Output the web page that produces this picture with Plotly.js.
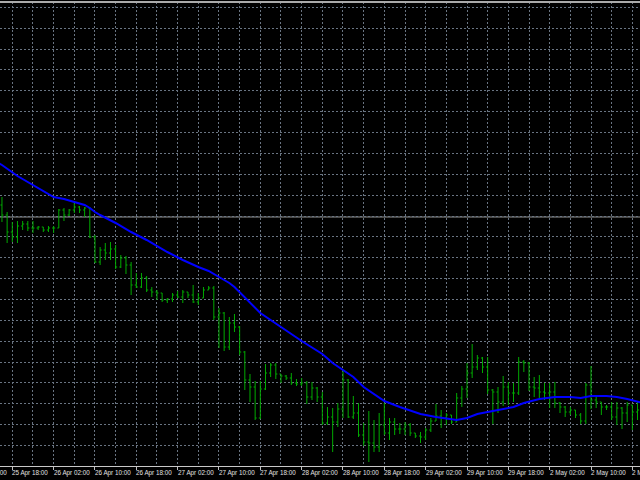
<!DOCTYPE html>
<html>
<head>
<meta charset="utf-8">
<script src="https://cdn.plot.ly/plotly-3.0.1.min.js"></script>
<style>
html,body{margin:0;padding:0;background:#000;}
#chart{width:640px;height:480px;}
</style>
</head>
<body>
<div id="chart"></div>
<script>
// Bar index (hourly bars, weekend gap removed; 0 = 25 Apr 18:00)
const barIndex = [];
for (let k = -2; k <= 121; k++) barIndex.push(k);

const opens = [108.95,108.85,108.68,108.63,108.74,108.76,108.72,108.72,108.73,108.70,108.72,108.72,108.90,108.85,108.90,108.93,108.90,108.92,108.63,108.38,108.50,108.47,108.51,108.33,108.42,108.35,108.15,108.13,108.22,108.10,108.08,108.07,108.00,108.01,108.05,108.03,108.08,108.05,107.98,108.02,108.10,108.12,107.83,107.87,107.53,107.77,107.73,107.48,107.20,107.13,106.82,107.11,107.27,107.35,107.26,107.24,107.22,107.17,107.16,107.17,107.03,107.12,107.03,106.77,106.83,106.78,106.91,107.20,106.83,106.87,106.65,106.58,106.57,106.53,106.75,106.67,106.78,106.71,106.71,106.75,106.67,106.64,106.63,106.70,106.79,106.84,106.82,106.85,106.78,107.02,107.11,107.27,107.33,107.42,107.33,107.10,107.08,106.98,107.13,107.07,107.07,107.38,107.37,107.13,107.12,107.08,107.07,107.08,106.97,106.93,106.88,106.90,106.85,106.79,107.15,107.00,106.98,106.93,106.93,106.83,106.92,106.87,106.95,106.88];
const highs = [109.03,108.88,108.78,108.79,108.79,108.79,108.79,108.74,108.73,108.74,108.74,108.91,108.92,108.91,108.97,108.94,108.93,108.93,108.65,108.53,108.57,108.58,108.55,108.45,108.44,108.38,108.27,108.27,108.24,108.13,108.10,108.07,108.02,108.07,108.09,108.10,108.08,108.15,108.07,108.13,108.14,108.14,107.92,107.88,107.83,107.86,107.74,107.49,107.26,107.19,107.19,107.36,107.37,107.37,107.26,107.25,107.27,107.21,107.22,107.19,107.18,107.13,107.08,106.93,106.92,106.97,107.30,107.21,107.04,106.97,106.77,106.89,106.80,106.87,106.97,106.82,106.82,106.77,106.78,106.77,106.67,106.68,106.72,106.82,106.96,106.90,106.87,106.85,107.07,107.14,107.37,107.56,107.45,107.43,107.43,107.11,107.13,107.24,107.18,107.17,107.43,107.40,107.38,107.23,107.25,107.17,107.17,107.18,106.98,106.94,106.93,106.90,106.87,107.17,107.34,107.03,106.98,106.95,106.98,106.98,106.93,106.98,106.95,106.98];
const lows = [108.78,108.57,108.58,108.57,108.70,108.69,108.67,108.70,108.68,108.68,108.67,108.72,108.79,108.84,108.87,108.87,108.83,108.62,108.37,108.35,108.40,108.40,108.31,108.32,108.26,108.05,108.12,108.12,108.08,108.03,108.00,107.98,107.97,107.98,108.02,107.97,108.02,107.97,107.95,108.02,108.10,107.80,107.52,107.49,107.50,107.68,107.45,107.10,106.98,106.80,106.81,107.10,107.23,107.21,107.17,107.20,107.15,107.14,107.14,106.96,107.00,106.98,106.75,106.75,106.48,106.73,106.82,106.82,106.81,106.63,106.54,106.38,106.48,106.48,106.65,106.60,106.65,106.66,106.65,106.64,106.62,106.57,106.60,106.68,106.79,106.72,106.75,106.76,106.78,106.93,107.02,107.22,107.30,107.27,107.06,106.76,106.87,106.94,106.95,106.98,107.05,107.28,107.09,107.03,107.02,107.00,106.92,106.92,106.87,106.83,106.85,106.82,106.76,106.76,106.91,106.92,106.85,106.90,106.80,106.75,106.71,106.78,106.70,106.80];
const closes = [108.85,108.68,108.63,108.74,108.76,108.72,108.72,108.73,108.70,108.72,108.72,108.90,108.85,108.90,108.93,108.90,108.92,108.63,108.38,108.50,108.47,108.51,108.33,108.42,108.35,108.15,108.13,108.22,108.10,108.08,108.07,108.00,108.01,108.05,108.03,108.08,108.05,107.98,108.02,108.10,108.12,107.83,107.87,107.53,107.77,107.73,107.48,107.20,107.13,106.82,107.11,107.27,107.35,107.26,107.24,107.22,107.17,107.16,107.17,107.03,107.12,107.03,106.77,106.83,106.78,106.91,107.20,106.83,106.87,106.65,106.58,106.57,106.53,106.75,106.67,106.78,106.71,106.71,106.75,106.67,106.64,106.63,106.70,106.79,106.84,106.82,106.85,106.78,107.02,107.11,107.27,107.33,107.42,107.33,107.10,107.08,106.98,107.13,107.07,107.07,107.38,107.37,107.13,107.12,107.08,107.07,107.08,106.97,106.93,106.88,106.90,106.85,106.79,107.15,107.00,106.98,106.93,106.93,106.83,106.92,106.87,106.95,106.88,106.90];

// Moving average readings (bar index -> value)
const maIndex = [-3,-2,1,4,7,8,10,12,14,15,16,17,20,23,26,30,33,36,38,40,42,43,46,48,52,56,60,62,64,66,68,70,72,75,79,82,85,86,88,90,93,95,97,99,102,105,108,110,112,115,117,119,121,122];
const maValues = [109.38,109.35,109.24,109.15,109.06,109.03,109.01,108.98,108.95,108.92,108.88,108.85,108.77,108.68,108.60,108.48,108.40,108.33,108.29,108.23,108.17,108.13,107.98,107.87,107.73,107.59,107.46,107.37,107.30,107.23,107.13,107.06,106.99,106.93,106.86,106.83,106.81,106.80,106.82,106.86,106.89,106.91,106.93,106.97,107.01,107.03,107.03,107.02,107.04,107.04,107.03,107.01,106.98,106.97];

// Horizontal price level line
const levelPrice = 108.83;

// Time axis labels (every 8 bars)
const labelIndex = [-8,0,8,16,24,32,40,48,56,64,72,80,88,96,104,112,120];
const labelText = ["25 Apr 10:00","25 Apr 18:00","26 Apr 02:00","26 Apr 10:00","26 Apr 18:00","27 Apr 02:00","27 Apr 10:00","27 Apr 18:00","28 Apr 02:00","28 Apr 10:00","28 Apr 18:00","29 Apr 02:00","29 Apr 10:00","29 Apr 18:00","2 May 02:00","2 May 10:00","2 May 18:00"];

const xRange = [-2.38, 121.48];
const gridColor = 'rgb(105,116,130)';
const barColor = 'rgb(0,170,0)';
const labelFont = {family: 'Liberation Sans, Arial, sans-serif', size: 6.3, color: '#e0e0e0'};

const traces = [
  {
    type: 'ohlc',
    x: barIndex, open: opens, high: highs, low: lows, close: closes,
    increasing: {line: {color: barColor, width: 1}},
    decreasing: {line: {color: barColor, width: 1}},
    tickwidth: 0.3,
    hoverinfo: 'skip',
    showlegend: false
  },
  {
    type: 'scatter', mode: 'lines',
    x: maIndex, y: maValues,
    line: {color: '#0000ff', width: 2},
    hoverinfo: 'skip',
    showlegend: false
  }
];

// labels placed left-aligned at their tick (paper coords so that partly-visible labels still draw)
const annotations = labelIndex.map((v, k) => ({
  x: (v - xRange[0]) / (xRange[1] - xRange[0]), xref: 'paper', y: 0, yref: 'paper',
  text: labelText[k], showarrow: false,
  xanchor: 'left', yanchor: 'top', yshift: -2, xshift: -1,
  font: labelFont, borderpad: 0
}));

const layout = {
  width: 640, height: 480,
  margin: {l: 0, r: 0, t: 2, b: 14, pad: 0},
  paper_bgcolor: '#000000',
  plot_bgcolor: '#000000',
  showlegend: false,
  hovermode: false,
  font: labelFont,
  xaxis: {
    range: xRange,
    rangeslider: {visible: false},
    tickmode: 'array',
    tickvals: labelIndex,
    ticktext: labelText,
    showticklabels: false,
    ticks: 'outside', ticklen: 3, tickcolor: '#c0c0c0', tickwidth: 1,
    showline: true, linecolor: '#c8c8c8', linewidth: 1,
    showgrid: true, gridcolor: gridColor, griddash: '2px,2px', gridwidth: 1,
    minor: {tickmode: 'linear', tick0: 0, dtick: 4, showgrid: true, gridcolor: gridColor, griddash: '2px,2px', gridwidth: 1, ticks: ''},
    zeroline: false,
    fixedrange: true
  },
  yaxis: {
    range: [106.34, 110.98],
    tickmode: 'linear', tick0: 110.927, dtick: 0.2087,
    showticklabels: false,
    ticks: '',
    showgrid: true, gridcolor: gridColor, griddash: '2px,2px', gridwidth: 1,
    zeroline: false, showline: false,
    fixedrange: true
  },
  annotations: annotations,
  shapes: [
    {type: 'line', xref: 'paper', yref: 'y', x0: 0, x1: 1, y0: levelPrice, y1: levelPrice,
     line: {color: 'rgb(150,150,150)', width: 1}, layer: 'below'},
    {type: 'line', xref: 'paper', yref: 'paper', x0: 0, x1: 1, y0: 1, y1: 1,
     line: {color: 'rgb(170,170,170)', width: 2}}
  ]
};

Plotly.newPlot('chart', traces, layout, {displayModeBar: false, staticPlot: true});
</script>
</body>
</html>
